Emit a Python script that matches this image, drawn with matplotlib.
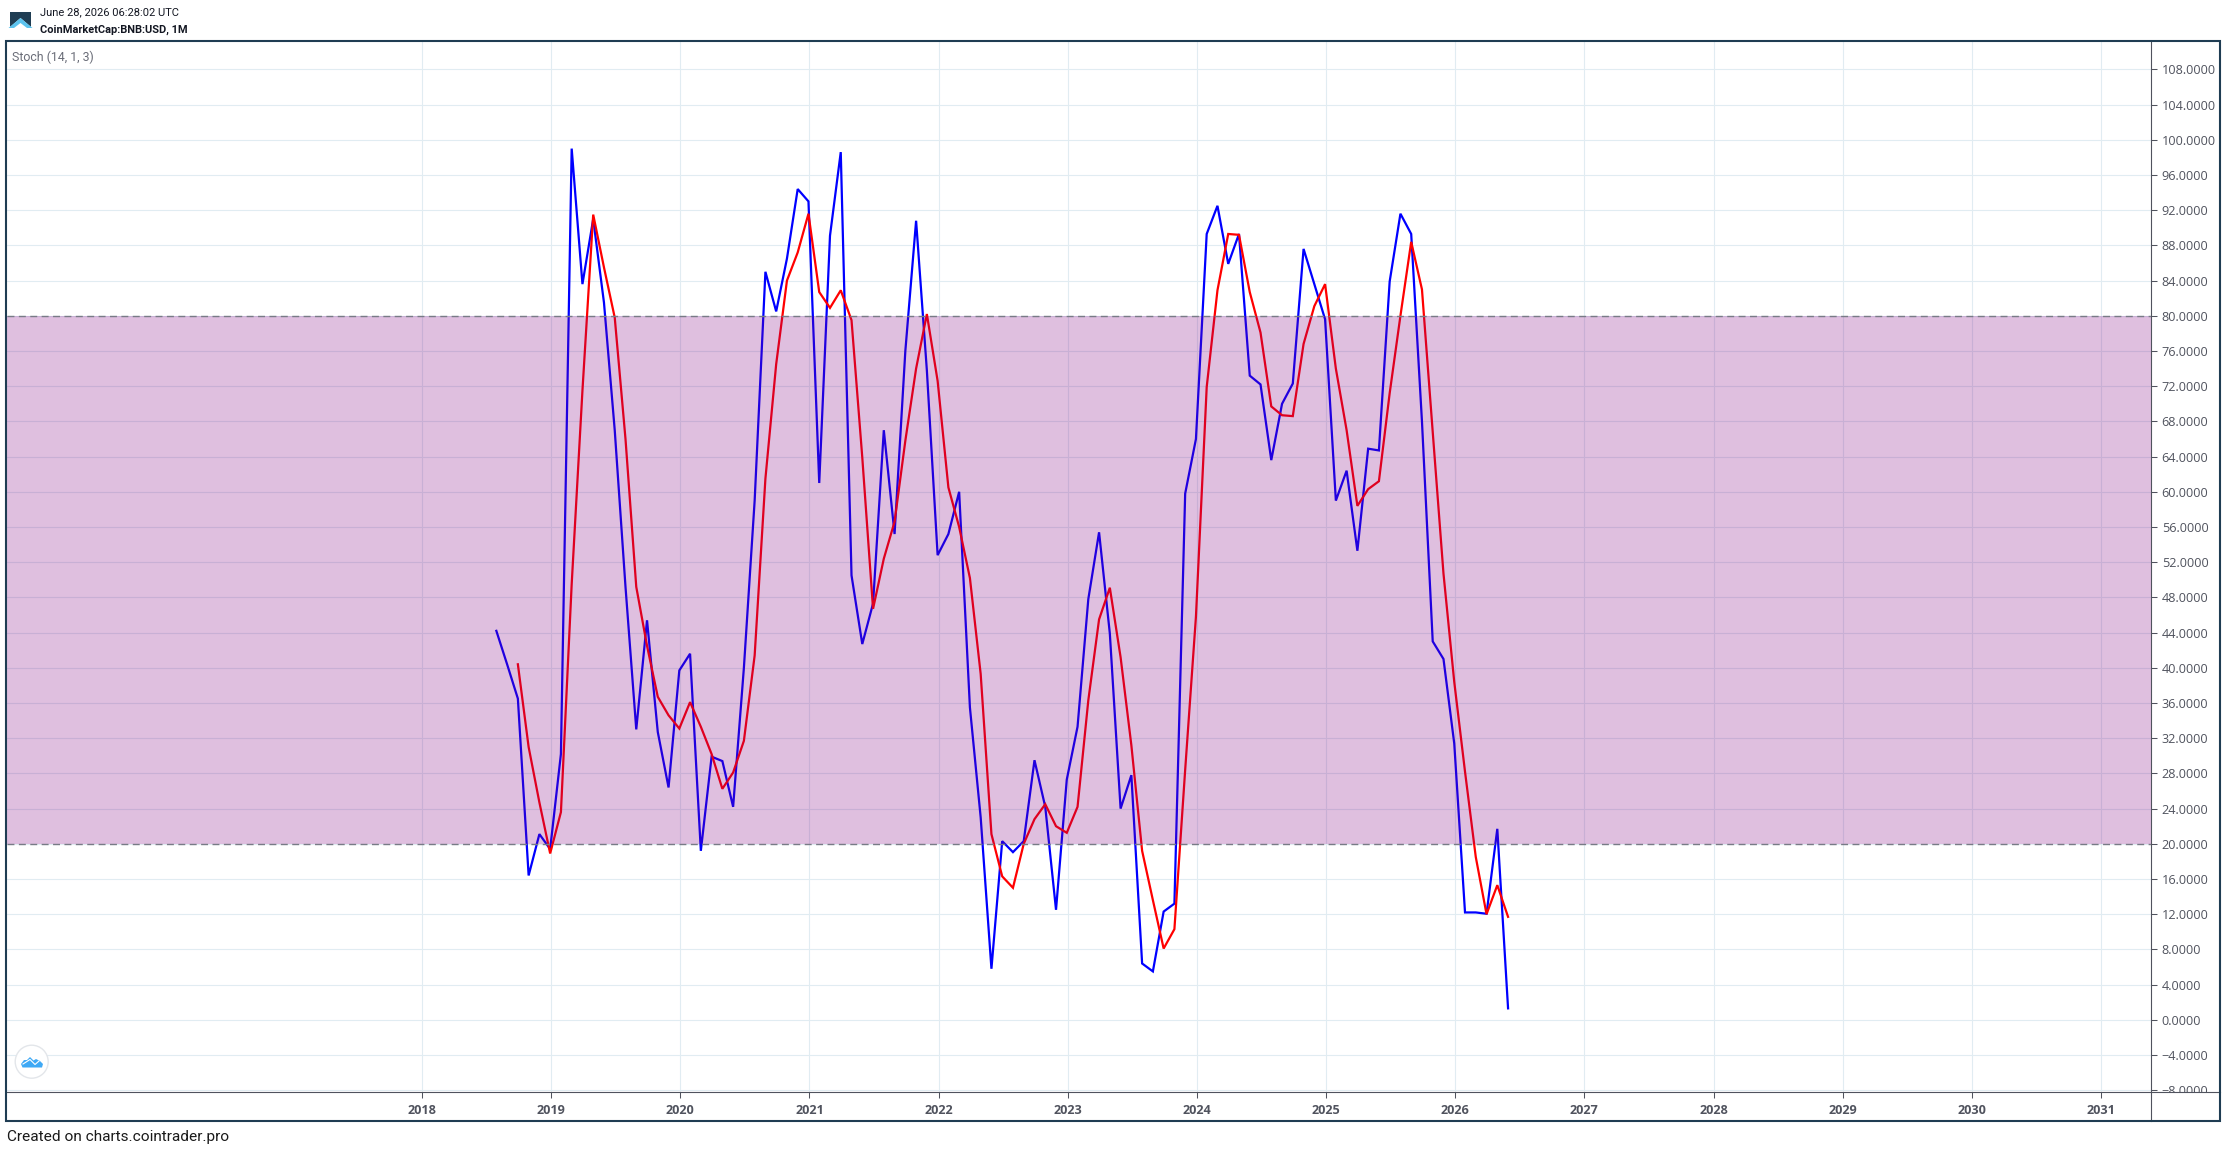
"""Stochastic (14, 1, 3) monthly chart of BNB/USD."""
import numpy as np
import matplotlib
matplotlib.use("Agg")
import matplotlib.pyplot as plt
from matplotlib.patches import Polygon, Circle, Rectangle
from matplotlib.lines import Line2D

# months are counted from January 2018
blue_start = 7
k_values = [44.2, 40.4, 36.5, 16.4, 21.1, 19.4, 30.2, 99.0, 83.6, 91.0, 81.5, 67.0,
            49.2, 33.0, 45.4, 32.7, 26.4, 39.7, 41.6, 19.2, 29.9, 29.4, 24.2, 40.0,
            59.0, 85.0, 80.5, 86.5, 94.4, 93.0, 61.0, 89.1, 98.6, 50.5, 42.7, 47.3,
            67.0, 55.2, 76.0, 90.8, 73.8, 52.8, 55.2, 60.0, 35.5, 23.0, 5.8, 20.3,
            19.05, 20.3, 29.5, 24.2, 12.5, 27.3, 33.3, 47.8, 55.4, 43.9, 24.0, 27.8,
            6.4, 5.5, 12.3, 13.2, 59.8, 66.0, 89.3, 92.5, 85.9, 89.3, 73.2, 72.2,
            63.6, 70.0, 72.3, 87.6, 83.6, 79.6, 59.0, 62.4, 53.3, 64.9, 64.7, 83.9,
            91.6, 89.3, 68.0, 43.0, 41.0, 31.4, 12.2, 12.2, 12.05, 21.7, 1.3]

red_start = 9
d_values = [40.4, 31.0, 24.7, 18.9, 23.6, 49.5, 71.5, 91.5, 85.5, 79.8, 66.0, 49.2,
            42.5, 36.7, 34.6, 33.1, 36.1, 33.3, 30.2, 26.25, 28.1, 31.7, 41.4, 61.5,
            74.5, 84.0, 87.2, 91.6, 82.7, 80.9, 82.9, 79.5, 63.9, 46.7, 52.4, 56.6,
            65.8, 74.0, 80.2, 72.6, 60.5, 56.0, 50.2, 39.3, 21.1, 16.3, 15.0, 20.0,
            22.8, 24.5, 22.0, 21.25, 24.2, 36.3, 45.5, 49.1, 41.2, 31.2, 19.2, 13.6,
            8.1, 10.3, 28.4, 45.8, 71.9, 82.9, 89.3, 89.2, 82.7, 78.1, 69.7, 68.7,
            68.6, 76.8, 81.1, 83.6, 74.0, 67.0, 58.4, 60.3, 61.2, 71.2, 80.0, 88.4,
            83.0, 66.8, 50.7, 38.4, 28.2, 18.5, 12.0, 15.3, 11.7]

years = list(range(2018, 2032))
y_ticks = list(range(-8, 109, 4))

W, H = 2226, 1152
AX_L, AX_R, AX_T, AX_B = 7, 2151.3, 42, 1092

GRID = "#E1ECF2"
AXIS = "#50535E"
FRAME = "#1F3D53"


def px(x, y):
    return x / W, 1 - y / H


fig = plt.figure(figsize=(W / 100, H / 100), dpi=100, facecolor="white")
ax = fig.add_axes([AX_L / W, 1 - AX_B / H, (AX_R - AX_L) / W, (AX_B - AX_T) / H])

# pixel calibration of the time and value scales
x_step, x_zero = 10.763, 421.0
y_step, y_zero = 8.8, 1019.8
ax.set_xlim((AX_L - x_zero) / x_step, (AX_R - x_zero) / x_step)
ax.set_ylim((y_zero - AX_B) / y_step, (y_zero - AX_T) / y_step)

year_pos = [(y - 2018) * 12 + 0.09 for y in years]
ax.set_xticks(year_pos, labels=[str(y) for y in years])
ax.set_yticks(y_ticks, labels=[f"{v:.4f}".replace("-", "\u2212") for v in y_ticks])
ax.grid(True, color=GRID, linewidth=0.8, zorder=0)
ax.set_axisbelow(True)

ax.yaxis.tick_right()
ax.tick_params(axis="y", length=4, width=0.75, color=AXIS, labelcolor=AXIS, pad=3.5,
               labelsize=9.1, labelfontfamily="Open Sans")
ax.tick_params(axis="x", length=4, width=0.75, color=AXIS, labelcolor=AXIS, pad=5,
               labelsize=9.1, labelfontfamily="Open Sans")
for lab in ax.get_xticklabels():
    lab.set_fontweight("bold")
for side in ["top", "left"]:
    ax.spines[side].set_visible(False)
for side in ["right", "bottom"]:
    ax.spines[side].set_color(AXIS)
    ax.spines[side].set_linewidth(0.8)

ax.plot(np.arange(blue_start, blue_start + len(k_values)), k_values, color="#0000FF",
        linewidth=1.6, zorder=2, solid_joinstyle="miter")
ax.plot(np.arange(red_start, red_start + len(d_values)), d_values, color="#FF0000",
        linewidth=1.6, zorder=3, solid_joinstyle="miter")

# the band sits over the lines, they get tinted by it
ax.axhspan(20, 80, color="#800080", alpha=0.25, linewidth=0, zorder=4)
for lvl in [20, 80]:
    ax.axhline(lvl, color="#787B86", linewidth=1.0, dashes=(5, 3.2), zorder=5)

# cover what hangs under the time axis (the -8 label is cut off there)
fig.add_artist(Rectangle(px(AX_R + 1, 1120), 66 / W, 27.5 / H, transform=fig.transFigure,
                         facecolor="white", edgecolor="none", zorder=1))

# axis extensions and outer frame
fig.add_artist(Line2D([px(AX_R, 0)[0]] * 2, [px(0, AX_B)[1], px(0, 1121)[1]], color=AXIS,
                      linewidth=0.8, zorder=2))
fig.add_artist(Line2D([px(AX_R, 0)[0], px(2220, 0)[0]], [px(0, AX_B)[1]] * 2, color=AXIS,
                      linewidth=0.8, zorder=2))
fig.add_artist(Rectangle(px(6, 1121), 2214 / W, 1080 / H, transform=fig.transFigure,
                         facecolor="none", edgecolor=FRAME, linewidth=1.5, zorder=3))

# header
fig.text(*px(40, 12.5), "June 28, 2026 06:28:02 UTC", family="Roboto", fontsize=8.0,
         color="#131722", va="center")
fig.text(*px(40, 29.5), "CoinMarketCap:BNB:USD, 1M", family="Roboto", fontsize=7.9,
         fontweight="bold", color="#131722", va="center")
fig.text(*px(12, 57), "Stoch (14, 1, 3)", family="Roboto", fontsize=8.9, color="#6A6D78",
         va="center")
fig.text(*px(7, 1137.5), "Created on charts.cointrader.pro", family="Roboto", fontsize=11.05,
         color="#1A1A1A", va="center")

# cointrader logo, top left
fig.add_artist(Polygon([px(10, 12), px(31, 12), px(31, 27), px(20.5, 18), px(10, 27)],
                       transform=fig.transFigure, facecolor="#1F3D53", edgecolor="none", zorder=4))
fig.add_artist(Polygon([px(8.5, 28), px(20.5, 18), px(32.5, 28), px(27, 28), px(20.5, 23), px(14, 28)],
                       transform=fig.transFigure, facecolor="#5CC3EE", edgecolor="none", zorder=4))

# watermark bottom left (circle in pixel space so it stays round)
fig.add_artist(Circle((31.7, H - 1061.7), 16.5, transform=None, facecolor="white",
                      edgecolor="#E3E6EA", linewidth=1.0, zorder=4))
fig.add_artist(Polygon([px(21, 1064), px(24, 1060), px(27, 1060), px(30, 1057), px(33.5, 1060.5),
                        px(36, 1059), px(40, 1061), px(43, 1064), px(42, 1067.5), px(22.5, 1067.5)],
                       transform=fig.transFigure, facecolor="#3FA9F5", edgecolor="none", zorder=5))
fig.add_artist(Line2D([px(23, 0)[0], px(30, 0)[0], px(35, 0)[0], px(39, 0)[0]],
                      [px(0, 1064)[1], px(0, 1059.5)[1], px(0, 1064.5)[1], px(0, 1061)[1]],
                      color="white", linewidth=0.8, zorder=6))

fig.savefig("out.png", dpi=100)
